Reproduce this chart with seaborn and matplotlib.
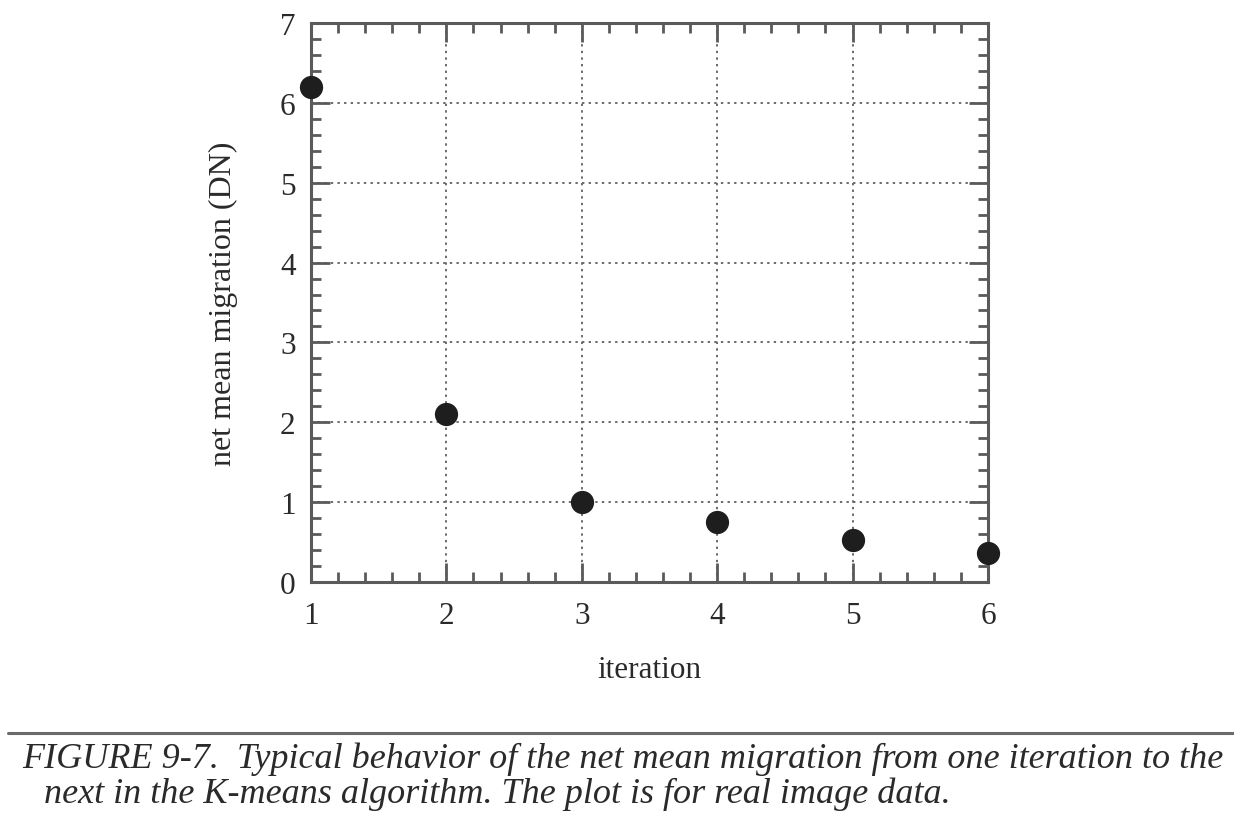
import matplotlib
matplotlib.use("Agg")
import matplotlib.pyplot as plt
from matplotlib.ticker import MultipleLocator
from matplotlib.lines import Line2D
import seaborn as sns
import pandas as pd

# Net mean migration per K-means iteration
iterations = [1, 2, 3, 4, 5, 6]
migration = [6.2, 2.1, 1.0, 0.75, 0.53, 0.36]

x_label = "iteration"
y_label = "net mean migration (DN)"
caption_lines = [
    "FIGURE 9-7.  Typical behavior of the net mean migration from one iteration to the",
    "next in the K-means algorithm. The plot is for real image data.",
]

sns.set_style("ticks")
plt.rcParams["font.family"] = ["Liberation Serif", "DejaVu Serif"]

df = pd.DataFrame({"iteration": iterations, "migration": migration})

fig = plt.figure(figsize=(12.34, 8.37), dpi=100)
ax = fig.add_axes([0.252, 0.3035, 0.5486, 0.6678])

frame_col = "#5a5a5a"
text_col = "#2a2a2a"
sns.scatterplot(data=df, x="iteration", y="migration", ax=ax,
                s=280, color="#1e1e1e", edgecolor="#1e1e1e", linewidth=0,
                clip_on=False, zorder=5)

ax.set_xlim(1, 6)
ax.set_ylim(0, 7)
ax.xaxis.set_major_locator(MultipleLocator(1))
ax.xaxis.set_minor_locator(MultipleLocator(0.2))
ax.yaxis.set_major_locator(MultipleLocator(1))
ax.yaxis.set_minor_locator(MultipleLocator(0.2))

ax.grid(True, which="major", linestyle=(0, (1.2, 2.2)), color="#6a6a6a", linewidth=1.4)
ax.set_axisbelow(True)

for sp in ax.spines.values():
    sp.set_visible(True)
    sp.set_color(frame_col)
    sp.set_linewidth(2.2)

ax.tick_params(which="both", direction="in", top=True, right=True,
               color=frame_col, width=2.0)
ax.tick_params(which="major", length=14, labelsize=22.5, labelcolor=text_col)
ax.tick_params(axis="x", which="major", pad=14)
ax.tick_params(axis="y", which="major", pad=11)
ax.tick_params(which="minor", length=7)

ax.set_xlabel(x_label, fontsize=22.5, color=text_col, labelpad=18)
ax.set_ylabel(y_label, fontsize=23, color=text_col, labelpad=30)

# Caption rule and text
fig.add_artist(Line2D([8 / 1234, 1.0], [1 - 734 / 837, 1 - 734 / 837],
                      transform=fig.transFigure, color="#6a6a6a", linewidth=2.2))
fig.text(22 / 1234, 1 - 759 / 837, caption_lines[0], fontsize=26, style="italic",
         color=text_col, va="center", ha="left")
fig.text(44 / 1234, 1 - 794 / 837, caption_lines[1], fontsize=26, style="italic",
         color=text_col, va="center", ha="left")

fig.savefig("out.png", dpi=100, facecolor="white")
